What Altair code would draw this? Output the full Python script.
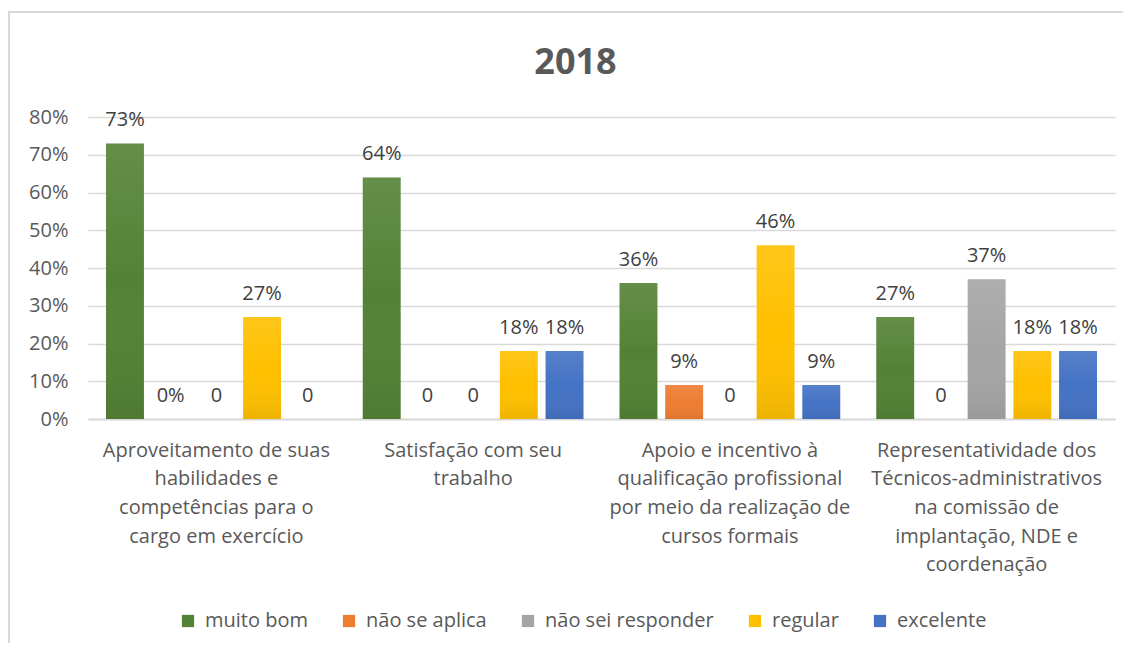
import altair as alt
import pandas as pd

category_lines = [
    ["Aproveitamento de suas", "habilidades e", "competências para o", "cargo em exercício"],
    ["Satisfação com seu", "trabalho"],
    ["Apoio e incentivo à", "qualificação profissional", "por meio da realização de", "cursos formais"],
    ["Representatividade dos", "Técnicos-administrativos", "na comissão de", "implantação, NDE e", "coordenação"],
]
categories = ["\n".join(l) for l in category_lines]

series = ["muito bom", "não se aplica", "não sei responder", "regular", "excelente"]
colors = ["#548235", "#ED7D31", "#A5A5A5", "#FFC000", "#4472C4"]

muito_bom = [73, 64, 36, 27]
nao_se_aplica = [0, 0, 9, 0]
nao_sei_responder = [0, 0, 0, 37]
regular = [27, 18, 46, 18]
excelente = [0, 18, 9, 18]

labels_muito_bom = ["73%", "64%", "36%", "27%"]
labels_nao_se_aplica = ["0%", "0", "9%", "0"]
labels_nao_sei_responder = ["0", "0", "0", "37%"]
labels_regular = ["27%", "18%", "46%", "18%"]
labels_excelente = ["0", "18%", "9%", "18%"]

y_ticks = [0, 10, 20, 30, 40, 50, 60, 70, 80]

rows = []
for s, vals, labs in zip(
    series,
    [muito_bom, nao_se_aplica, nao_sei_responder, regular, excelente],
    [labels_muito_bom, labels_nao_se_aplica, labels_nao_sei_responder, labels_regular, labels_excelente],
):
    for c, v, l in zip(categories, vals, labs):
        rows.append({"cat": c, "series": s, "value": v, "label": l})
df = pd.DataFrame(rows)

FONT = "Open Sans"
TXT = "#595959"
FS = 20

x_enc = alt.X(
    "cat:N",
    sort=categories,
    scale=alt.Scale(paddingInner=0.11, paddingOuter=0.055),
    axis=alt.Axis(
        title=None,
        labelExpr="split(datum.label, '\\n')",
        labelAngle=0,
        labelFontSize=FS,
        labelFont=FONT,
        labelColor=TXT,
        labelLineHeight=28.7,
        labelPadding=21,
        labelLimit=0,
        ticks=False,
        domainColor="#d9d9d9",
        domainWidth=2,
        grid=False,
    ),
)
xoff_enc = alt.XOffset(
    "series:N", sort=series, scale=alt.Scale(paddingInner=0.17, paddingOuter=0.085)
)
y_enc = alt.Y(
    "value:Q",
    scale=alt.Scale(domain=[0, 80], nice=False),
    axis=alt.Axis(
        title=None,
        values=y_ticks,
        labelExpr="datum.value + '%'",
        labelFontSize=FS,
        labelFont=FONT,
        labelColor=TXT,
        labelPadding=20,
        ticks=False,
        domain=False,
        gridColor="#d9d9d9",
        gridWidth=1.3,
    ),
)

base = alt.Chart(df)

bars = base.mark_bar().encode(
    x=x_enc,
    xOffset=xoff_enc,
    y=y_enc,
    color=alt.Color(
        "series:N",
        sort=series,
        scale=alt.Scale(domain=series, range=colors),
        legend=alt.Legend(
            title=None,
            orient="none",
            direction="horizontal",
            legendX=90,
            legendY=494,
            symbolType="square",
            symbolSize=150,
            symbolStrokeWidth=0,
            labelFontSize=FS,
            labelFont=FONT,
            labelColor=TXT,
            columnPadding=31,
            labelOffset=7,
            labelLimit=0,
        ),
    ),
)

shade = base.mark_bar(
    fill=alt.Gradient(
        gradient="linear",
        x1=0, x2=0, y1=0, y2=1,
        stops=[
            alt.GradientStop(color="rgba(255,255,255,0.10)", offset=0),
            alt.GradientStop(color="rgba(255,255,255,0)", offset=0.5),
            alt.GradientStop(color="rgba(0,0,0,0.07)", offset=1),
        ],
    )
).encode(x=x_enc, xOffset=xoff_enc, y=y_enc)

texts = base.mark_text(
    baseline="alphabetic", dy=-17, fontSize=FS, font=FONT, color="#404040"
).encode(x=x_enc, xOffset=xoff_enc, y=y_enc, text="label:N")

border = alt.Chart(pd.DataFrame({"a": [0]})).mark_rect(
    fill=None, stroke="#d9d9d9", strokeWidth=2
).encode(
    x=alt.value(-79), x2=alt.value(1200), y=alt.value(-105), y2=alt.value(700)
)

chart = (
    alt.layer(border, bars, shade, texts)
    .properties(
        width=1027,
        height=302,
        padding={"left": 80, "top": 109, "right": 8, "bottom": 224},
        autosize=alt.AutoSizeParams(type="none"),
        title=alt.Title(
            "2018",
            fontSize=36,
            font=FONT,
            fontWeight="bold",
            color=TXT,
            anchor="middle",
            dx=-26,
            offset=-99,
            baseline="alphabetic",
        ),
    )
    .configure_view(stroke=None)
)

chart.save("out.html", embed_options={"renderer": "svg", "actions": False})
